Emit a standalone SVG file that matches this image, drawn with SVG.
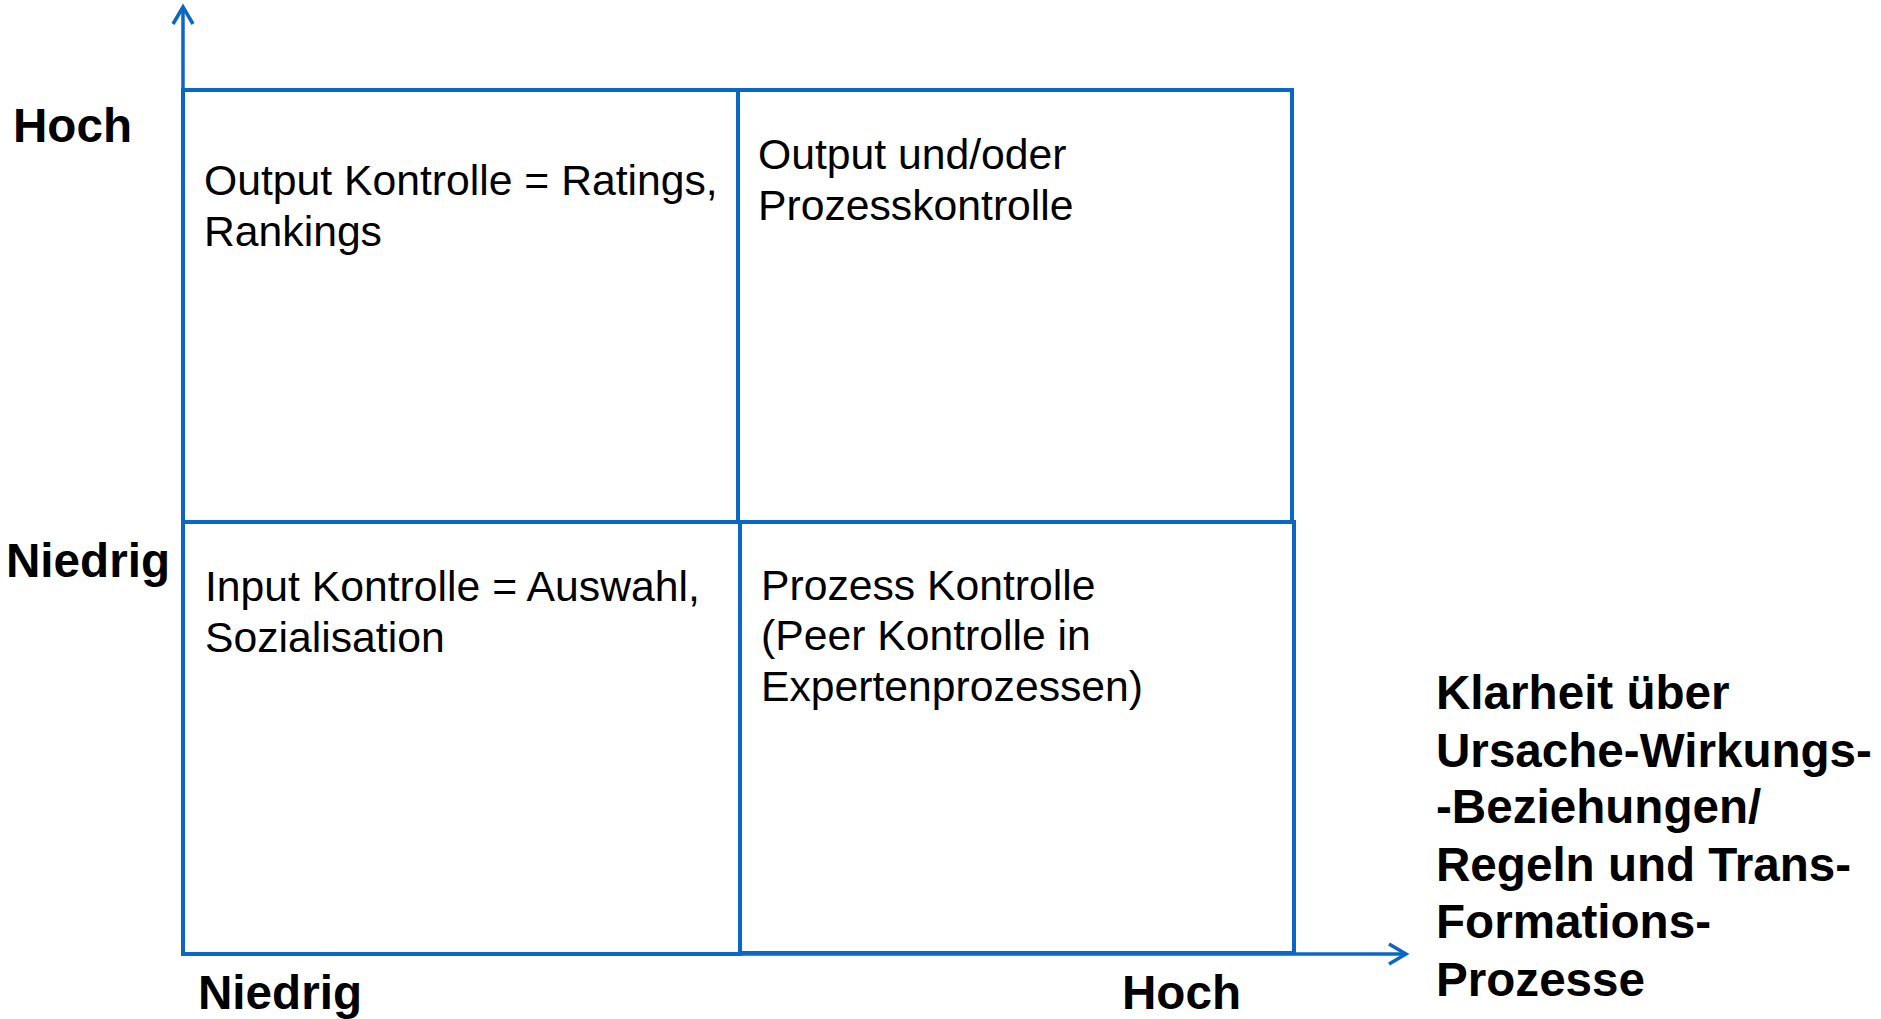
<svg xmlns="http://www.w3.org/2000/svg" width="1881" height="1019" viewBox="0 0 1881 1019">
  <style>
    .cell { fill: none; stroke: #0a68c4; stroke-width: 4; }
    .axis { fill: none; stroke: #0a68c4; stroke-width: 3.5; }
    .body { font-family: "Liberation Sans", Arial, sans-serif; font-size: 42.7px; fill: #000; }
    .lbl { font-family: "Liberation Sans", Arial, sans-serif; font-size: 47.6px; font-weight: bold; fill: #000; }
  </style>
  <defs>
    <marker id="arr" markerUnits="userSpaceOnUse" markerWidth="40" markerHeight="40" viewBox="-20 -20 40 40" refX="0" refY="0" orient="auto">
      <path d="M-17,-10 L0,0 L-17,10" fill="none" stroke="#0a68c4" stroke-width="3.5"/>
    </marker>
  </defs>
  <rect width="1881" height="1019" fill="#fff"/>

  <g id="connectors">
    <line class="axis" x1="183" y1="954" x2="183" y2="7" marker-end="url(#arr)"/>
    <line class="axis" x1="183" y1="954" x2="1406" y2="954" marker-end="url(#arr)"/>
  </g>

  <g id="cell-top-left">
    <rect class="cell" x="183" y="90" width="555" height="432"/>
    <text class="body" x="204" y="195">Output Kontrolle = Ratings,</text>
    <text class="body" x="204" y="246">Rankings</text>
  </g>
  <g id="cell-top-right">
    <rect class="cell" x="738" y="90" width="554" height="432"/>
    <text class="body" x="758" y="169">Output und/oder</text>
    <text class="body" x="758" y="220">Prozesskontrolle</text>
  </g>
  <g id="cell-bottom-left">
    <rect class="cell" x="183" y="522" width="557" height="432"/>
    <text class="body" x="205" y="601">Input Kontrolle = Auswahl,</text>
    <text class="body" x="205" y="652">Sozialisation</text>
  </g>
  <g id="cell-bottom-right">
    <rect class="cell" x="740" y="522" width="554" height="431"/>
    <text class="body" x="761" y="600">Prozess Kontrolle</text>
    <text class="body" x="761" y="650">(Peer Kontrolle in</text>
    <text class="body" x="761" y="701">Expertenprozessen)</text>
  </g>

  <g id="label-y-hoch"><text class="lbl" x="13" y="142">Hoch</text></g>
  <g id="label-y-niedrig"><text class="lbl" x="6" y="577">Niedrig</text></g>
  <g id="label-x-niedrig"><text class="lbl" x="198" y="1009">Niedrig</text></g>
  <g id="label-x-hoch"><text class="lbl" x="1122" y="1009">Hoch</text></g>
  <g id="label-x-axis">
    <text class="lbl" x="1436" y="709">Klarheit über</text>
    <text class="lbl" x="1436" y="767">Ursache-Wirkungs-</text>
    <text class="lbl" x="1436" y="823">-Beziehungen/</text>
    <text class="lbl" x="1436" y="881">Regeln und Trans-</text>
    <text class="lbl" x="1436" y="938">Formations-</text>
    <text class="lbl" x="1436" y="996">Prozesse</text>
  </g>
</svg>
